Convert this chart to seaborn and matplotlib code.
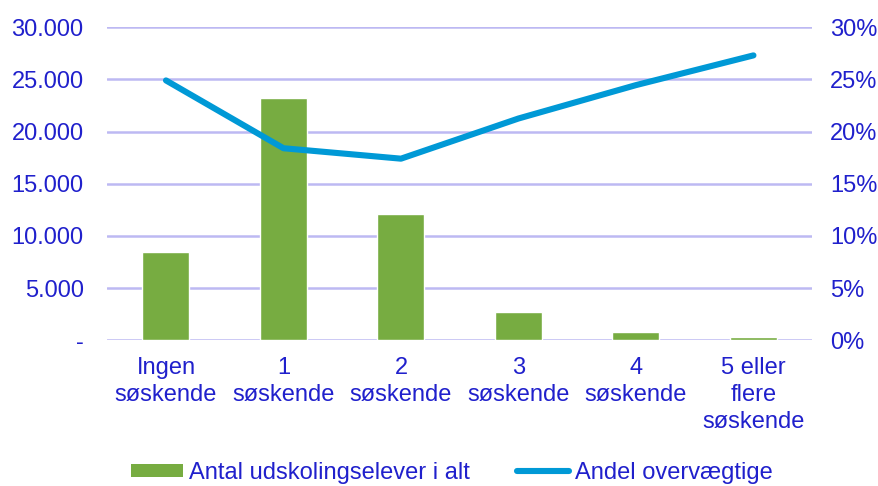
import numpy as np
import pandas as pd
import matplotlib
matplotlib.use("Agg")
import matplotlib.pyplot as plt
from matplotlib.ticker import FuncFormatter
from matplotlib.patches import Patch
from matplotlib.lines import Line2D
import seaborn as sns

# Data
categories = ["Ingen\nsøskende", "1\nsøskende", "2\nsøskende", "3\nsøskende",
              "4\nsøskende", "5 eller\nflere\nsøskende"]
elever = [8500, 23200, 12050, 2700, 740, 350]
andel = [0.249, 0.184, 0.174, 0.2125, 0.2445, 0.273]

BAR = "#77AC41"
LINE = "#0099D6"
TXT = "#2020CC"
GRID = "#BDB9F3"
FS = 17

sns.set_theme(style="white")
plt.rcParams["font.family"] = ["Liberation Sans", "DejaVu Sans"]

df = pd.DataFrame({"kat": categories, "elever": elever, "andel": andel,
                   "pos": np.arange(len(categories))})

fig = plt.figure(figsize=(8.79, 4.86), dpi=100)
ax = fig.add_axes([0.122, 0.300, 0.802, 0.644])

sns.barplot(data=df, x="kat", y="elever", color=BAR, width=0.4,
            saturation=1, ax=ax, zorder=3)
ax.set_ylim(0, 30000)
ax.set_yticks(np.arange(0, 30001, 5000))
ax.yaxis.set_major_formatter(FuncFormatter(
    lambda v, p: "-" if v == 0 else f"{int(v):,}".replace(",", ".")))
ax.set_xlim(-0.5, len(categories) - 0.5)
ax.grid(axis="y", color=GRID, linewidth=1.8, zorder=0)
ax.set_axisbelow(True)
ax.set_xlabel("")
ax.set_ylabel("")
for s in ax.spines.values():
    s.set_visible(False)
ax.tick_params(axis="both", length=0, labelsize=FS, labelcolor=TXT)
ax.tick_params(axis="x", pad=12)
ax.tick_params(axis="y", pad=17)
for lab in ax.get_xticklabels():
    lab.set_linespacing(1.3)
    lab.set_va("top")

ax2 = ax.twinx()
sns.lineplot(data=df, x="pos", y="andel", color=LINE, linewidth=4.4,
             ax=ax2, solid_capstyle="round")
ax2.set_ylim(0, 0.30)
ax2.set_yticks(np.arange(0, 0.301, 0.05))
ax2.yaxis.set_major_formatter(FuncFormatter(lambda v, p: f"{v*100:.0f}%"))
ax2.set_xlim(-0.5, len(categories) - 0.5)
ax2.set_ylabel("")
ax2.set_xlabel("")
for s in ax2.spines.values():
    s.set_visible(False)
ax2.tick_params(axis="y", length=0, labelsize=FS, labelcolor=TXT, pad=13)

handles = [Patch(facecolor=BAR, edgecolor="none"),
           Line2D([0], [0], color=LINE, linewidth=4.4, solid_capstyle="round")]
fig.legend(handles, ["Antal udskolingselever i alt", "Andel overvægtige"],
           loc="center", bbox_to_anchor=(0.514, 0.027), ncol=2,
           frameon=False, fontsize=FS, labelcolor=TXT, handlelength=2.2,
           handleheight=0.5, handletextpad=0.25, columnspacing=2.0,
           borderpad=0)

fig.savefig("out.png", dpi=100)
